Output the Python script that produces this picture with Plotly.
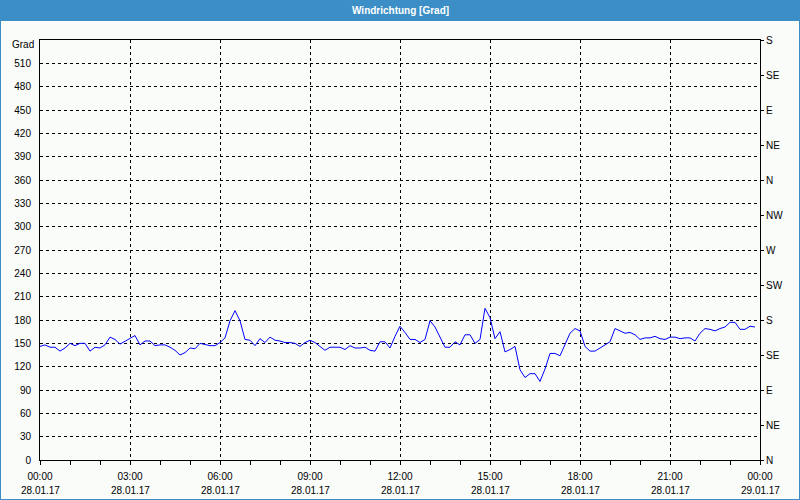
import pandas as pd
import plotly.graph_objects as go

# ---- data (10-minute wind direction values, degrees) ----
start_time = "2017-01-28 00:00"
wind_dir = [
    146, 148, 145, 145, 140, 144, 150, 147, 150, 150, 140, 145,
    144, 148, 158, 155, 149, 153, 157, 160, 148, 153, 153, 147,
    148, 148, 145, 141, 135, 138, 144, 143, 150, 148, 147, 147,
    151, 157, 179, 192, 179, 155, 154, 147, 156, 151, 158, 154,
    153, 151, 151, 150, 146, 151, 154, 151, 146, 141, 145, 145,
    145, 142, 147, 144, 144, 145, 141, 140, 152, 152, 144, 159,
    172, 164, 155, 155, 151, 155, 179, 171, 158, 145, 145, 152,
    148, 161, 161, 150, 155, 195, 183, 156, 165, 139, 142, 146,
    116, 106, 111, 111, 101, 117, 137, 137, 134, 148, 163, 169,
    166, 146, 140, 140, 144, 147, 152, 169, 166, 163, 164, 161,
    155, 157, 157, 159, 156, 155, 158, 158, 156, 157, 157, 153,
    163, 169, 168, 166, 169, 171, 177, 177, 168, 168, 172, 171,
]
times = pd.date_range(start_time, periods=len(wind_dir), freq="10min")

left_ticks = list(range(0, 511, 30))
right_ticks = list(range(0, 541, 45))
right_labels = ["N", "NE", "E", "SE", "S", "SW", "W", "NW", "N", "NE", "E", "SE", "S"]
x_major = pd.date_range("2017-01-28 00:00", "2017-01-29 00:00", freq="3h")
x_time_labels = [t.strftime("%H:%M") for t in x_major]
x_date_labels = [t.strftime("%d.%m.%y") for t in x_major]
title_text = "Windrichtung [Grad]"
unit_text = "Grad"

FONT = "Liberation Sans"
W, H = 800, 500
L, R, T, B = 40, 40, 40, 40
pw, ph = W - L - R, H - T - B


def px_x(p):
    return (p - L) / pw


def px_y(p):
    return (H - B - p) / ph


fig = go.Figure()
fig.add_trace(go.Scatter(x=times, y=wind_dir, mode="lines",
                         line=dict(color="#0000ff", width=1), showlegend=False,
                         hoverinfo="x+y"))
# invisible trace to activate the secondary axis
fig.add_trace(go.Scatter(x=[times[0]], y=[0], yaxis="y2", mode="markers",
                         marker=dict(opacity=0), showlegend=False, hoverinfo="skip"))

grid = dict(gridcolor="#000000", gridwidth=1, griddash="3px,3px")

annotations = [
    dict(text="<b>" + title_text + "</b>", xref="paper", yref="paper",
         x=px_x(400), y=px_y(10), xanchor="center", yanchor="middle",
         showarrow=False, font=dict(family=FONT, size=10, color="#ffffff")),
    dict(text=unit_text, xref="paper", yref="paper",
         x=px_x(36), y=px_y(45), xanchor="right", yanchor="middle",
         showarrow=False, font=dict(family=FONT, size=10, color="#000")),
]
for t, lab in zip(x_major, x_date_labels):
    annotations.append(dict(text=lab, xref="x", yref="paper", x=t, y=px_y(490),
                            xanchor="center", yanchor="middle", showarrow=False,
                            font=dict(family=FONT, size=10, color="#000")))

fig.update_layout(
    width=W, height=H,
    margin=dict(l=L, r=R, t=T, b=B, autoexpand=False),
    paper_bgcolor="#fafcfa", plot_bgcolor="#fafcfa",
    font=dict(family=FONT, size=10, color="#000000"),
    xaxis=dict(
        type="date", automargin=False,
        range=["2017-01-28 00:00", "2017-01-29 00:00"],
        tickvals=list(x_major), ticktext=x_time_labels,
        ticks="outside", ticklen=4, tickcolor="#000", tickwidth=1,
        ticklabelstandoff=3,
        showline=True, linecolor="#000", linewidth=1, mirror=True,
        showgrid=True, **grid,
        minor=dict(dtick=3600000, ticks="outside", ticklen=4, tickcolor="#000",
                   showgrid=False),
        zeroline=False,
        tickfont=dict(family=FONT, size=10, color="#000"),
    ),
    yaxis=dict(
        range=[0, 540], automargin=False,
        tickvals=left_ticks, ticktext=[str(v) for v in left_ticks],
        ticks="", ticklabelstandoff=6,
        showline=True, linecolor="#000", linewidth=1, mirror=True,
        showgrid=True, **grid,
        zeroline=False, fixedrange=True,
        tickfont=dict(family=FONT, size=10, color="#000"),
    ),
    yaxis2=dict(
        range=[0, 540], overlaying="y", side="right", automargin=False,
        tickvals=right_ticks, ticktext=right_labels,
        ticks="outside", ticklen=3, tickcolor="#000",
        showgrid=False, zeroline=False, showline=False,
        tickfont=dict(family=FONT, size=10, color="#000"),
    ),
    shapes=[
        dict(type="rect", xref="paper", yref="paper",
             x0=px_x(0), x1=px_x(W), y0=px_y(21), y1=px_y(0),
             fillcolor="#3c8fc6", line=dict(width=0), layer="above"),
        dict(type="line", xref="paper", yref="paper",
             x0=px_x(0.5), x1=px_x(0.5), y0=px_y(21), y1=px_y(H),
             line=dict(color="#3c8fc6", width=1)),
        dict(type="line", xref="paper", yref="paper",
             x0=px_x(W - 0.5), x1=px_x(W - 0.5), y0=px_y(21), y1=px_y(H),
             line=dict(color="#3c8fc6", width=1)),
        dict(type="line", xref="paper", yref="paper",
             x0=px_x(0), x1=px_x(W), y0=px_y(H - 0.5), y1=px_y(H - 0.5),
             line=dict(color="#3c8fc6", width=1)),
    ],
    annotations=annotations,
)

fig.write_html("out.html", config={"displayModeBar": False},
               post_script="document.body.style.margin='0';document.body.style.overflow='hidden';")
